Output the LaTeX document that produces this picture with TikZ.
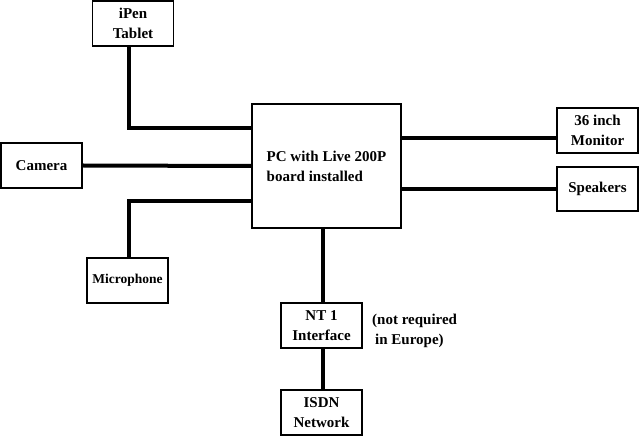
\documentclass[tikz,border=0pt]{standalone}
\usepackage{fontspec}
\setmainfont{Liberation Serif}
\usepackage{tikz}
\usetikzlibrary{positioning}

\begin{document}
\begin{tikzpicture}[x=1bp,y=-1bp]
\tikzstyle{unit}=[draw, line width=1.5bp, inner sep=0pt, minimum width=81bp, minimum height=45bp, align=center, font=\bfseries\fontsize{15bp}{20bp}\selectfont]
\tikzstyle{cable}=[line width=4bp]

\useasboundingbox (0,0) rectangle (640,436);

\node[unit] (tablet) at (133,23.5) {iPen\\Tablet};
\node[unit] (camera) at (41.5,165.5) {Camera};
\node[unit, minimum width=149bp, minimum height=124bp, align=left] (pc) at (326.5,166) {PC with Live 200P\\board installed};
\node[unit, font=\bfseries\fontsize{13.5bp}{16bp}\selectfont] (mic) at (127.5,280.5) {Microphone};
\node[unit] (monitor) at (597.5,130.5) {36 inch\\Monitor};
\node[unit, minimum height=44bp] (speakers) at (597.5,189) {Speakers};
\node[unit] (nt) at (321.5,325.5) {NT 1\\Interface};
\node[unit] (isdn) at (321.5,412.5) {ISDN\\Network};
\node[anchor=west, inner sep=0pt, align=left, font=\bfseries\fontsize{15bp}{20bp}\selectfont] (note) at (372,331) {(not required\\\hspace{3bp}in Europe)};

\draw[cable] ([xshift=-4bp]tablet.south) |- ([yshift=38bp]pc.west);
\draw[cable] (camera.east) -- (pc.west);
\draw[cable] ([xshift=1.5bp]mic.north) |- ([yshift=-35bp]pc.west);
\draw[cable] ([yshift=28bp]pc.east) -- ([yshift=28bp]pc.east -| monitor.west);
\draw[cable] (speakers.west -| pc.east) -- (speakers.west);
\draw[cable] ([xshift=1.5bp]nt.north) -- ([xshift=1.5bp]nt.north |- pc.south);
\draw[cable] ([xshift=1.5bp]nt.south) -- ([xshift=1.5bp]isdn.north);
\end{tikzpicture}
\end{document}
